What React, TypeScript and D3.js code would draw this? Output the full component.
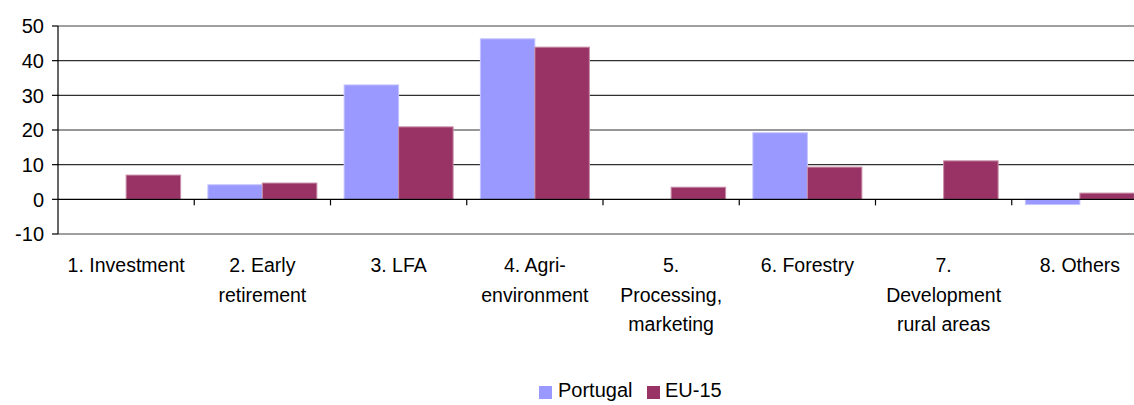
import React from 'react';
import * as d3 from 'd3';

const categories = ['1. Investment', '2. Early retirement', '3. LFA', '4. Agri-environment', '5. Processing, marketing', '6. Forestry', '7. Development rural areas', '8. Others'];
// label lines as they are wrapped in the picture
const categoryLines = [
  ['1. Investment'],
  ['2. Early', 'retirement'],
  ['3. LFA'],
  ['4. Agri-', 'environment'],
  ['5.', 'Processing,', 'marketing'],
  ['6. Forestry'],
  ['7.', 'Development', 'rural areas'],
  ['8. Others'],
];
const seriesNames = ['Portugal', 'EU-15'];
const portugal = [0, 4.2, 33.0, 46.3, 0, 19.2, 0, -1.5];
const eu15 = [7.0, 4.7, 20.9, 43.9, 3.5, 9.3, 11.1, 1.8];
const yTicks = [-10, 0, 10, 20, 30, 40, 50];

const colors = ['#9999FF', '#993366'];
const edges = ['#C4C4FF', '#C78DA8'];

export default function App() {
  const width = 1134;
  const height = 405;
  const font = '"Liberation Sans", Arial, sans-serif';

  // plot area runs past the right edge of the picture, as in the original
  const x = d3.scaleBand<string>().domain(categories).range([58, 1148]).padding(0);
  const inner = d3.scaleBand<string>().domain(seriesNames).range([0, x.bandwidth()]).paddingInner(0).paddingOuter(0.25);
  const y = d3.scaleLinear().domain([-10, 50]).range([234, 26]);

  const values = [portugal, eu15];
  const x0 = x.range()[0];

  return (
    <svg width={width} height={height} style={{ position: 'absolute', left: 0, top: 0, display: 'block', background: '#fff' }}>
      {/* gridlines */}
      {yTicks.filter(t => t !== 0 && t !== -10 && t !== 50).map(t => (
        <line key={t} x1={x0} x2={width} y1={y(t)} y2={y(t)} stroke="#303030" strokeWidth={1.2} />
      ))}
      {/* plot border top / bottom */}
      <line x1={x0} x2={width} y1={y(50)} y2={y(50)} stroke="#A0A0A0" strokeWidth={2} />
      <line x1={x0} x2={width} y1={y(-10)} y2={y(-10)} stroke="#A0A0A0" strokeWidth={2} />

      {/* bars */}
      {values.map((vals, s) => (
        <g key={s}>
          {vals.map((v, i) => v === 0 ? null : (
            <rect key={i}
              x={(x(categories[i]) as number) + (inner(seriesNames[s]) as number)}
              y={y(Math.max(0, v))}
              width={inner.bandwidth()}
              height={Math.abs(y(v) - y(0))}
              fill={colors[s]}
              stroke={edges[s]}
              strokeWidth={1} />
          ))}
        </g>
      ))}

      {/* zero line and category ticks */}
      <line x1={x0} x2={width} y1={y(0)} y2={y(0)} stroke="#000" strokeWidth={1.2} />
      {categories.slice(1).map(c => (
        <line key={c} x1={x(c)} x2={x(c)} y1={y(0)} y2={y(0) + 6} stroke="#000" strokeWidth={1.2} />
      ))}

      {/* y axis */}
      <line x1={x0} x2={x0} y1={y(50)} y2={y(-10)} stroke="#000" strokeWidth={1.2} />
      {yTicks.map(t => (
        <g key={t}>
          <line x1={x0 - 6} x2={x0} y1={y(t)} y2={y(t)} stroke="#000" strokeWidth={1.2} />
          <text x={44} y={y(t)} dy="0.36em" textAnchor="end" fontFamily={font} fontSize={20} fill="#000">{t}</text>
        </g>
      ))}

      {/* category labels */}
      {categoryLines.map((lines, i) => (
        <text key={i} x={(x(categories[i]) as number) + x.bandwidth() / 2} y={272} textAnchor="middle" fontFamily={font} fontSize={19.5} fill="#000">
          {lines.map((l, j) => (
            <tspan key={j} x={(x(categories[i]) as number) + x.bandwidth() / 2} dy={j === 0 ? 0 : 29.5}>{l}</tspan>
          ))}
        </text>
      ))}

      {/* legend */}
      <g fontFamily={font} fontSize={20}>
        <rect x={539} y={386} width={13} height={13} fill={colors[0]} />
        <text x={558} y={397} fill="#000">{seriesNames[0]}</text>
        <rect x={647} y={386} width={13} height={13} fill={colors[1]} />
        <text x={665} y={397} fill="#000">{seriesNames[1]}</text>
      </g>
    </svg>
  );
}
